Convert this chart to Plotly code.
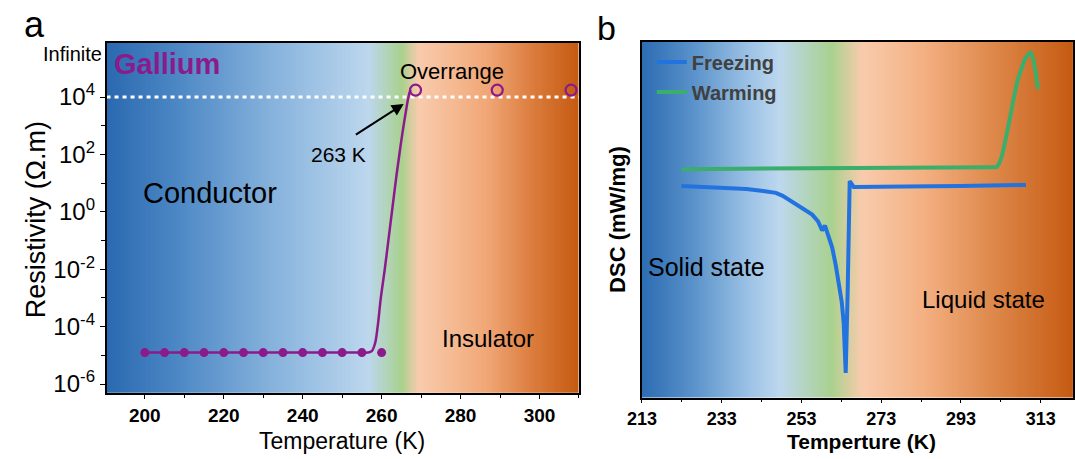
import numpy as np
import plotly.graph_objects as go

W, H = 1075, 459
FONT = "Liberation Sans, Arial, sans-serif"

# ---------------- Panel a data ----------------
temp_dots = [200, 205, 210, 215, 220, 225, 230, 235, 240, 245, 250, 255]
res_dots = [1.25e-5, 1.25e-5, 1.25e-5, 1.25e-5, 1.25e-5, 1.25e-5,
            1.25e-5, 1.25e-5, 1.25e-5, 1.25e-5, 1.25e-5, 1.25e-5]
temp_last = [260]
res_last = [1.25e-5]
temp_fit = [255.1, 256.5, 257.5, 258.3, 259.0, 259.8, 260.8, 261.8,
            262.8, 263.8, 264.8, 265.8, 266.8, 267.3]
res_fit = [1.25e-5, 1.25e-5, 1.4e-5, 2.5e-5, 1e-4, 1e-3, 1e-2, 0.126,
           1.6, 20, 200, 1600, 1e4, 1.8e4]
temp_over = [268.6, 289.3, 308.0]
res_over = [1.75e4, 1.75e4, 1.75e4]
res_limit = 1e4
xa_range = [190.3, 310.0]
ya_range = [-6.3, 5.9]
xa_ticks = [200, 220, 240, 260, 280, 300]
ya_tickvals = [1e-6, 1e-4, 1e-2, 1e0, 1e2, 1e4]
ya_ticktext = ["10<sup>-6</sup>", "10<sup>-4</sup>", "10<sup>-2</sup>",
               "10<sup>0</sup>", "10<sup>2</sup>", "10<sup>4</sup>"]
ya_minor = [1e-5, 1e-3, 1e-1, 1e1, 1e3]

# ---------------- Panel b data ----------------
temp_freeze = [222.9, 231.0, 239.2, 243.4, 246.6, 248.3, 251.5, 255.7,
               257.2, 258.2, 258.9, 259.6, 260.7, 261.6, 262.4, 263.1,
               263.6, 264.1, 264.6, 264.9, 265.1, 266.1, 277.9, 292.8, 309.3]
dsc_freeze = [2.12, 2.11, 2.09, 2.07, 2.05, 2.02, 1.94, 1.83,
              1.76, 1.67, 1.72, 1.62, 1.50, 1.32, 1.13, 0.95,
              0.73, 0.23, 1.07, 1.90, 2.17, 2.11, 2.11, 2.12, 2.13]
temp_warm = [222.9, 300.9, 301.9, 303.1, 305.1, 307.1, 309.3, 310.5, 311.3, 312.3]
dsc_warm = [2.29, 2.31, 2.31, 2.40, 2.77, 3.17, 3.42, 3.47, 3.37, 3.10]
xb_range = [213.0, 321.1]
yb_range = [-0.02, 3.58]
xb_ticks = [213, 233, 253, 273, 293, 313]

# ---------------- styles ----------------
PURPLE = "#8b1a8b"
BLUE = "#2272e0"
GREEN = "#3aae6a"
scale_a = [[0.00, "#2a69b0"], [0.15, "#4d88c5"], [0.35, "#86b2dc"],
           [0.50, "#aecde9"], [0.555, "#bdd7ee"], [0.625, "#a9d18e"],
           [0.66, "#f8cbad"], [0.73, "#f5bb94"], [0.81, "#f0a574"],
           [0.90, "#dc7d3e"], [1.00, "#c55a11"]]
scale_b = [[0.00, "#2c6cb2"], [0.12, "#5a92ca"], [0.25, "#9dc3e6"],
           [0.32, "#bdd7ee"], [0.44, "#a9d18e"], [0.51, "#f8cbad"],
           [0.65, "#f4b183"], [0.80, "#e08c50"], [1.00, "#c55a11"]]


def px(x):
    return x / W


def py(y):
    return 1 - y / H


fig = go.Figure()

# gradient backgrounds
ea = np.linspace(xa_range[0], xa_range[1], 301)
fig.add_trace(go.Heatmap(x=ea, y=[1e-8, 1e8], z=[list((ea[:-1] + ea[1:]) / 2)],
                         colorscale=scale_a, zmin=xa_range[0], zmax=xa_range[1],
                         showscale=False, hoverinfo="skip", xaxis="x", yaxis="y"))
eb = np.linspace(xb_range[0], xb_range[1], 301)
fig.add_trace(go.Heatmap(x=eb, y=[-5, 10], z=[list((eb[:-1] + eb[1:]) / 2)],
                         colorscale=scale_b, zmin=xb_range[0], zmax=xb_range[1],
                         showscale=False, hoverinfo="skip", xaxis="x2", yaxis="y2"))

# panel a traces
fig.add_trace(go.Scatter(x=xa_range, y=[res_limit, res_limit], mode="lines",
                         line=dict(color="white", width=3, dash="4px,4px"),
                         showlegend=False, hoverinfo="skip", xaxis="x", yaxis="y"))
fig.add_trace(go.Scatter(x=temp_fit, y=res_fit, mode="lines", line=dict(color=PURPLE, width=2.5, shape="spline"),
                         showlegend=False, xaxis="x", yaxis="y"))
fig.add_trace(go.Scatter(x=temp_dots, y=res_dots, mode="lines+markers",
                         line=dict(color=PURPLE, width=2.5), marker=dict(size=9, color=PURPLE),
                         showlegend=False, xaxis="x", yaxis="y"))
fig.add_trace(go.Scatter(x=temp_last, y=res_last, mode="markers",
                         marker=dict(size=9, color=PURPLE), showlegend=False, xaxis="x", yaxis="y"))
fig.add_trace(go.Scatter(x=temp_over, y=res_over, mode="markers",
                         marker=dict(size=11, symbol="circle-open", color=PURPLE, line=dict(width=2.2)),
                         showlegend=False, xaxis="x", yaxis="y"))

# panel b traces
fig.add_trace(go.Scatter(x=temp_freeze, y=dsc_freeze, mode="lines", name="Freezing",
                         line=dict(color=BLUE, width=4), legendgroup="f", xaxis="x2", yaxis="y2"))
fig.add_trace(go.Scatter(x=temp_warm, y=dsc_warm, mode="lines", name="Warming",
                         line=dict(color=GREEN, width=4, shape="spline", smoothing=0.6),
                         legendgroup="w", xaxis="x2", yaxis="y2"))

axis_common = dict(showline=True, linecolor="black", linewidth=1.5, mirror=True,
                   ticks="outside", tickcolor="black", ticklen=5, tickwidth=1.3,
                   showgrid=False, zeroline=False)
minor_common = dict(ticks="outside", ticklen=4, tickcolor="black", tickwidth=1.3)

fig.update_layout(
    width=W, height=H, margin=dict(l=0, r=0, t=0, b=0),
    paper_bgcolor="white", plot_bgcolor="white",
    font=dict(family=FONT, color="black"),
    xaxis=dict(domain=[px(93), px(573)], range=xa_range, anchor="y",
               tickvals=xa_ticks,
               minor=dict(tickvals=[190, 210, 230, 250, 270, 290, 310], **minor_common),
               tickfont=dict(size=19, family=FONT, weight="bold"), ticklabelstandoff=0,
               **axis_common),
    yaxis=dict(domain=[py(397), py(43)], type="log", range=ya_range, anchor="x",
               tickvals=ya_tickvals, ticktext=ya_ticktext,
               minor=dict(tickvals=ya_minor, **minor_common),
               tickfont=dict(size=24, family=FONT), ticklabelstandoff=0,
               **axis_common),
    xaxis2=dict(domain=[px(637), 1.0], range=xb_range, anchor="y2",
                tickvals=xb_ticks,
                minor=dict(tickvals=[223, 243, 263, 283, 303], ticks="outside", ticklen=3,
                           tickcolor="black", tickwidth=1.3),
                tickfont=dict(size=18, family=FONT, weight="bold"), ticklabelstandoff=0,
                showline=True, linecolor="black", linewidth=1.5, mirror=True,
                ticks="outside", tickcolor="black", ticklen=4, tickwidth=1.3,
                showgrid=False, zeroline=False),
    yaxis2=dict(domain=[py(402), py(42)], range=yb_range, anchor="x2",
                showline=True, linecolor="black", linewidth=1.5, mirror=True,
                ticks="", showticklabels=False, showgrid=False, zeroline=False),
    legend=dict(x=px(647), y=py(43), xanchor="left", yanchor="top",
                bgcolor="rgba(0,0,0,0)",
                font=dict(size=20, color="#404040", family=FONT, weight="bold"),
                tracegroupgap=1),
    showlegend=True,
)

ann = []


def txt(x, y, s, size, bold=False, color="black", angle=0, xanchor="center"):
    if bold:
        s = "<b>" + s + "</b>"
    ann.append(dict(x=px(x), y=py(y), xref="paper", yref="paper", text=s, showarrow=False,
                    font=dict(size=size, color=color, family=FONT), textangle=angle,
                    xanchor=xanchor, yanchor="middle"))


txt(20, 25, "a", 36)
txt(601, 28, "b", 34)
txt(99, 65, "Gallium", 29, bold=True, color=PURPLE, xanchor="left")
txt(90, 55, "Infinite", 20, xanchor="right")
txt(444, 72, "Overrange", 22)
txt(329, 156, "263 K", 21)
txt(198, 195, "Conductor", 29)
txt(481, 342, "Insulator", 24)
txt(703, 270, "Solid state", 25)
txt(984, 303, "Liquid state", 24)
txt(21, 222, "Resistivity (Ω.m)", 27, angle=-90)
txt(332, 446, "Temperature (K)", 23)
txt(612, 222, "DSC (mW/mg)", 22, bold=True, angle=-90)
txt(860, 446, "Temperture (K)", 21, bold=True)

# arrow pointing at the transition
ann.append(dict(x=265.6, y=3.76, xref="x", yref="y", ax=253.1, ay=2.66,
                axref="x", ayref="y", text="", showarrow=True, arrowhead=2,
                arrowsize=1.2, arrowwidth=2, arrowcolor="black"))

fig.update_layout(annotations=ann)
fig.write_html("out.html")
